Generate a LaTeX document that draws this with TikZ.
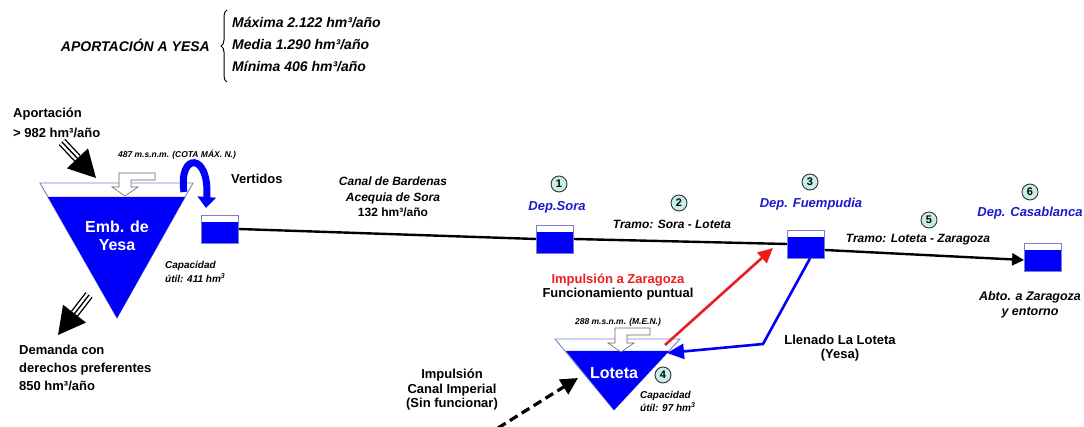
\documentclass[tikz,border=0pt]{standalone}
\usepackage{fontspec}
\setmainfont{Liberation Sans}
\usetikzlibrary{arrows.meta,calc,decorations.pathreplacing}
\definecolor{wblue}{RGB}{0,0,250}
\definecolor{edgeb}{RGB}{125,125,205}
\definecolor{numfill}{RGB}{200,238,232}
\definecolor{wred}{RGB}{235,30,30}
\definecolor{depblue}{RGB}{25,25,205}
\newcommand\stripearrow[2]{%
  \coordinate (hb) at ($(#2)!27pt!(#1)$);
  \draw[line width=9pt] (#1) -- (hb);
  \draw[white,line width=6.2pt] (#1) -- (hb);
  \draw[line width=1.4pt] (#1) -- (hb);
  \fill (#2) -- ($(hb)!14.5pt!90:(#2)$) -- ($(hb)!14.5pt!-90:(#2)$) -- cycle;
}
\begin{document}
\begin{tikzpicture}[x=1pt,y=-1pt,
  txt/.style={inner sep=0pt,align=center,font=\fontsize{13}{14.5}\selectfont\bfseries},
  itxt/.style={inner sep=0pt,align=center,font=\fontsize{12}{15.5}\selectfont\bfseries\itshape},
  tiny/.style={inner sep=0pt,font=\fontsize{8.5}{10}\selectfont\bfseries\itshape},
  captxt/.style={inner sep=0pt,align=left,font=\fontsize{10}{14}\selectfont\bfseries\itshape},
  dep/.style={inner sep=0pt,text=depblue,font=\fontsize{13}{15}\selectfont\bfseries\itshape},
  num/.style={circle,draw=black!80,line width=0.9pt,fill=numfill,inner sep=0pt,minimum size=16pt,font=\fontsize{11}{11}\selectfont\bfseries},
  tank/.style={draw=edgeb,line width=0.8pt,fill=wblue,minimum width=37pt,minimum height=28pt,inner sep=0pt,
    path picture={\fill[white] (path picture bounding box.north west) rectangle ([yshift=-7.5pt]path picture bounding box.north east);}},
  reserv/.style={fill=white,draw=edgeb,line width=0.9pt},
  water/.style={fill=wblue},
  blockarrow/.style={fill=white,draw=black!60,line width=0.6pt},
  conn/.style={line width=2.4pt},
]
\useasboundingbox (0,0) rectangle (1084,427);

% ---------- header ----------
\node[txt,font=\fontsize{14}{16}\selectfont\bfseries\itshape,anchor=east] (apy) at (210,45) {APORTACIÓN A YESA};
\draw[line width=1pt,decorate,decoration={brace,amplitude=6pt}] (227,82) -- (227,10);
\node[inner sep=0pt,align=left,anchor=west,font=\fontsize{14}{22}\selectfont\bfseries\itshape] (apv) at (232,45)
  {Máxima 2.122 hm³/año\\Media 1.290 hm³/año\\Mínima 406 hm³/año};

% ---------- Yesa ----------
\filldraw[reserv] (40,183) -- (193,183) -- (117,318) -- cycle;
\fill[water] (48,197) -- (185,197) -- (117,318) -- cycle;
\filldraw[blockarrow] (155,173) -- (119,173) -- (119,187) -- (112,187) -- (125,196) -- (138,187) -- (131,187) -- (131,180) -- (155,180) -- cycle;
\node[txt,text=white,font=\fontsize{16}{18}\selectfont\bfseries] (yesa) at (117,236) {Emb. de\\Yesa};
\node[tiny] (cota1) at (177,155) {487 m.s.n.m. (COTA MÁX. N.)};
\node[captxt,anchor=west] (cap1) at (165,272) {Capacidad\\útil: 411 hm\textsuperscript{3}};

\node[txt,align=left,anchor=west,font=\fontsize{13}{20}\selectfont\bfseries] (aport) at (13,123) {Aportación\\> 982 hm³/año};
\coordinate (apT) at (62,142);
\coordinate (apH) at (96,178);
\stripearrow{apT}{apH}

\node[txt,align=left,anchor=west,font=\fontsize{13}{18}\selectfont\bfseries] (dem) at (19,368) {Demanda con\\derechos preferentes\\850 hm³/año};
\coordinate (deT) at (89,295);
\coordinate (deH) at (58,335);
\stripearrow{deT}{deH}

% ---------- tanks ----------
\node[tank] (t1) at (220,229) {};
\node[tank] (sora) at (555,239) {};
\node[tank] (fuem) at (806,244) {};
\node[tank] (casa) at (1043,257) {};

% spill arrow
\coordinate (vs) at (184,192);
\coordinate (vt) at (206,208);
\draw[wblue,line width=7pt,-{Triangle[width=18pt,length=11pt]}] (vs) .. controls (178,152) and (210,152) .. (vt);
\node[txt,anchor=west] (vert) at (231,179) {Vertidos};

% canal
\draw[conn] (t1.east) -- (sora.west);
\draw[conn] (sora.east) -- (fuem.west);
\draw[conn,-{Triangle[width=12pt,length=12pt]}] ([yshift=-6pt]fuem.east) -- ([yshift=-3pt]casa.west);
\node[itxt] (canal) at (393,197) {Canal de Bardenas\\Acequia de Sora\\\upshape 132 hm³/año};

% labels of deposits
\node[num] (n1) at (559,184) {1};
\node[dep] (dsora) at (557,207) {Dep.Sora};
\node[num] (n2) at (679,203) {2};
\node[itxt] (tr1) at (672,224) {Tramo: Sora - Loteta};
\node[num] (n3) at (810,182) {3};
\node[dep] (dfuem) at (811,204) {Dep. Fuempudia};
\node[num] (n5) at (929,220) {5};
\node[itxt] (tr2) at (918,240) {Tramo: Loteta - Zaragoza};
\node[num] (n6) at (1030,192) {6};
\node[dep] (dcasa) at (1030,213) {Dep. Casablanca};
\node[itxt,font=\fontsize{12.5}{15}\selectfont\bfseries\itshape] (abto) at (1030,305) {Abto. a Zaragoza\\y entorno};

% ---------- Loteta ----------
\filldraw[reserv] (555,339) -- (680,339) -- (614,410) -- cycle;
\fill[water] (566,351) -- (669,351) -- (614,410) -- cycle;
\filldraw[blockarrow] (650,328) -- (615,328) -- (615,343) -- (608,343) -- (621,352) -- (634,343) -- (627,343) -- (627,335) -- (650,335) -- cycle;
\node[txt,text=white,font=\fontsize{16}{18}\selectfont\bfseries] (lot) at (614,373) {Loteta};
\node[num] (n4) at (663,375) {4};
\node[captxt,anchor=west,font=\fontsize{10}{13}\selectfont\bfseries\itshape] (cap2) at (640,401) {Capacidad\\útil: 97 hm\textsuperscript{3}};
\node[tiny] (cota2) at (618,322) {288 m.s.n.m. (M.E.N.)};
\node[txt] (impz) at (618,287) {\textcolor{wred}{Impulsión a Zaragoza}\\Funcionamiento puntual};

% filling from Fuempudia
\coordinate (bend) at (763,344);
\coordinate (lotR) at (667,353);
\draw[wblue,line width=2.6pt,line join=miter,-{Triangle[width=15pt,length=17pt]}] ([xshift=4pt]fuem.south) -- (bend) -- (lotR);
\node[txt] (llen) at (840,348) {Llenado La Loteta\\(Yesa)};

% pumping to Zaragoza
\coordinate (lotTR) at (665,345);
\coordinate (redtip) at (773,248);
\draw[wred,line width=2.6pt,-{Triangle[width=14pt,length=15pt]}] (lotTR) -- (redtip);

% Canal Imperial (dashed)
\coordinate (ciT) at (498,428);
\coordinate (ciH) at (578,378);
\draw[line width=3.2pt,dash pattern=on 9pt off 5pt,-{Triangle[width=17pt,length=17pt]}] (ciT) -- (ciH);
\node[txt] (impci) at (452,390) {Impulsión\\Canal Imperial\\(Sin funcionar)};
\end{tikzpicture}
\end{document}
